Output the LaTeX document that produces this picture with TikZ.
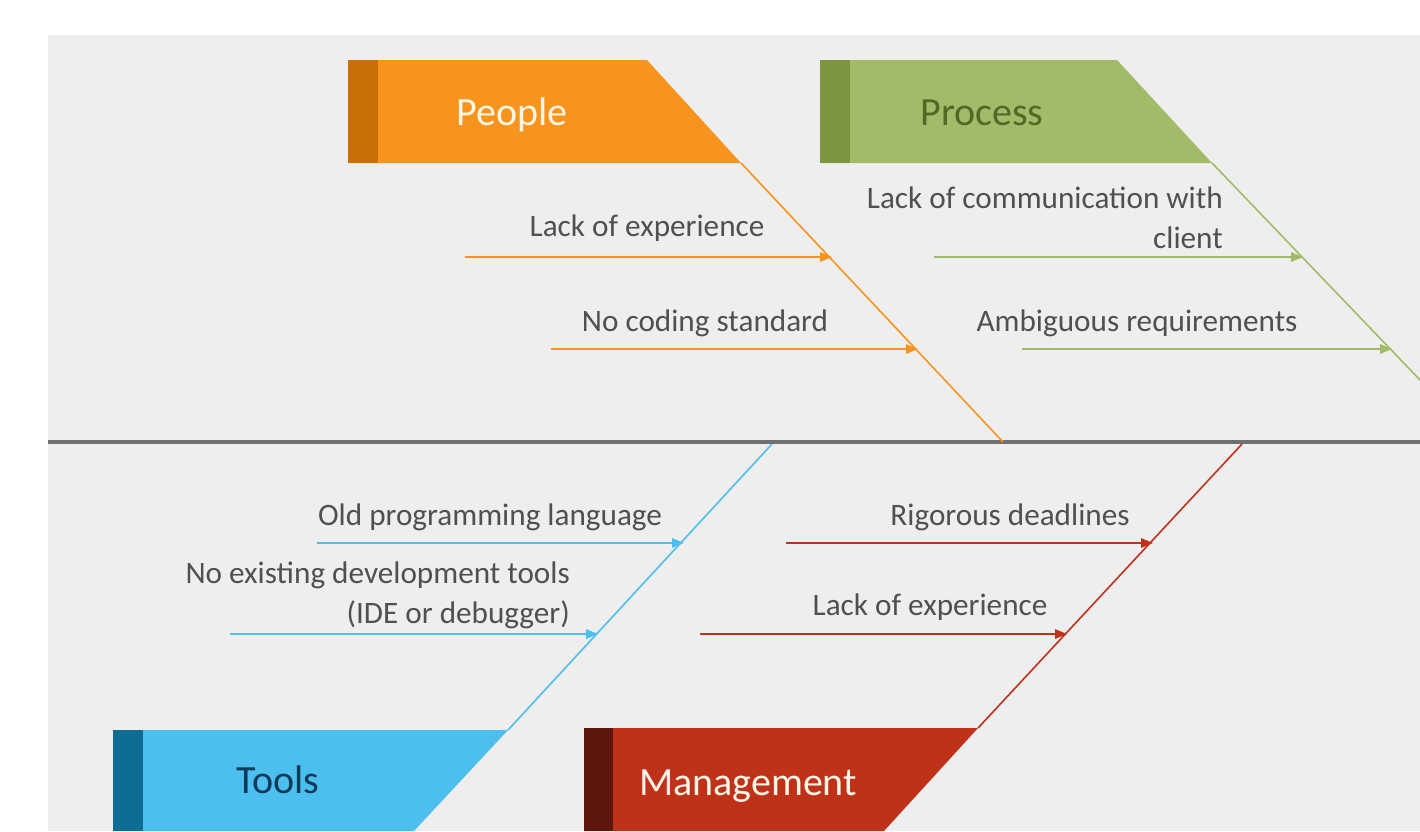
\documentclass[tikz,border=0pt]{standalone}
\usepackage{fontspec}
\setmainfont{Carlito}
\usetikzlibrary{arrows.meta}
\definecolor{panel}{HTML}{EFEEEF}
\definecolor{spinec}{HTML}{707070}
\definecolor{txt}{HTML}{505050}
\definecolor{org}{HTML}{F7941D}
\definecolor{orgd}{HTML}{C96F05}
\definecolor{grn}{HTML}{A1BB68}
\definecolor{grnd}{HTML}{7B9541}
\definecolor{grnt}{HTML}{4F6A26}
\definecolor{blu}{HTML}{4DBFEE}
\definecolor{blud}{HTML}{0E6C95}
\definecolor{blut}{HTML}{0C3B5A}
\definecolor{red}{HTML}{C0311A}
\definecolor{redd}{HTML}{5F170D}
\definecolor{cream}{HTML}{FFF6E6}
\begin{document}
\begin{tikzpicture}[x=1pt,y=-1pt,
  lbl/.style={inner sep=0pt,text=txt,font=\fontsize{31.2}{40}\selectfont},
  head/.style={inner sep=0pt,font=\fontsize{40}{46}\selectfont},
  arr/.style={line width=1.6pt,-{Triangle[length=12pt,width=9.5pt]}},
  bone/.style={line width=1.6pt}]
\useasboundingbox (0,0) rectangle (1420,831);
\fill[white] (0,0) rectangle (1420,831);
\fill[panel] (48,35) rectangle (1420,831);
% spine
\coordinate (sL) at (48,442);
\coordinate (sR) at (1420,442);
\draw[spinec,line width=4.5pt] (sL) -- (sR);
% People
\fill[org] (348,60) -- (647,60) -- (741,163) -- (348,163) -- cycle;
\fill[orgd] (348,60) rectangle (378,163);
\node[head,text=cream,anchor=base] (people) at (512,125) {People};
\coordinate (pc) at (741,163);
\coordinate (ps) at (1003,442);
\draw[bone,org] (pc) -- (ps);
% Process
\fill[grn] (820,60) -- (1117,60) -- (1212,163) -- (820,163) -- cycle;
\fill[grnd] (820,60) rectangle (850,163);
\node[head,text=grnt,anchor=base] (process) at (982,125) {Process};
\coordinate (gc) at (1212,163);
\coordinate (ge) at (1420,380);
\draw[bone,grn] (gc) -- (ge);
% Tools
\fill[blu] (113,730) -- (508,730) -- (414,831) -- (113,831) -- cycle;
\fill[blud] (113,730) rectangle (143,831);
\node[head,text=blut,anchor=base] (tools) at (278,793) {Tools};
\coordinate (bc) at (508,730);
\coordinate (bs) at (772,444);
\draw[bone,blu] (bc) -- (bs);
% Management
\fill[red] (584,728) -- (978,728) -- (884,831) -- (584,831) -- cycle;
\fill[redd] (584,728) rectangle (613,831);
\node[head,text=cream,anchor=base] (mgmt) at (748,795) {Management};
\coordinate (rc) at (978,728);
\coordinate (rs) at (1242,444);
\draw[bone,red] (rc) -- (rs);
% People causes
\node[lbl,anchor=base] (p1) at (647,236) {Lack of experience};
\coordinate (p1a) at (465,257); \coordinate (p1b) at (832,257);
\draw[arr,org] (p1a) -- (p1b);
\node[lbl,anchor=base] (p2) at (705,331) {No coding standard};
\coordinate (p2a) at (551,349); \coordinate (p2b) at (918,349);
\draw[arr,org] (p2a) -- (p2b);
% Process causes
\node[lbl,align=right,anchor=east] (g1) at (1223,218) {Lack of communication with\\client};
\coordinate (g1a) at (934,257); \coordinate (g1b) at (1303,257);
\draw[arr,grn] (g1a) -- (g1b);
\node[lbl,anchor=base] (g2) at (1137,331) {Ambiguous requirements};
\coordinate (g2a) at (1022,349); \coordinate (g2b) at (1392,349);
\draw[arr,grn] (g2a) -- (g2b);
% Tools causes
\node[lbl,anchor=base] (b1) at (490,525) {Old programming language};
\coordinate (b1a) at (317,543); \coordinate (b1b) at (684,543);
\draw[arr,blu] (b1a) -- (b1b);
\node[lbl,align=right,anchor=east] (b2) at (570,595) {No existing development tools\\(IDE or debugger)};
\coordinate (b2a) at (230,634); \coordinate (b2b) at (598,634);
\draw[arr,blu] (b2a) -- (b2b);
% Management causes
\node[lbl,anchor=base] (r1) at (1010,525) {Rigorous deadlines};
\coordinate (r1a) at (786,543); \coordinate (r1b) at (1153,543);
\draw[arr,red] (r1a) -- (r1b);
\node[lbl,anchor=base] (r2) at (930,615) {Lack of experience};
\coordinate (r2a) at (700,634); \coordinate (r2b) at (1067,634);
\draw[arr,red] (r2a) -- (r2b);
\end{tikzpicture}
\end{document}
